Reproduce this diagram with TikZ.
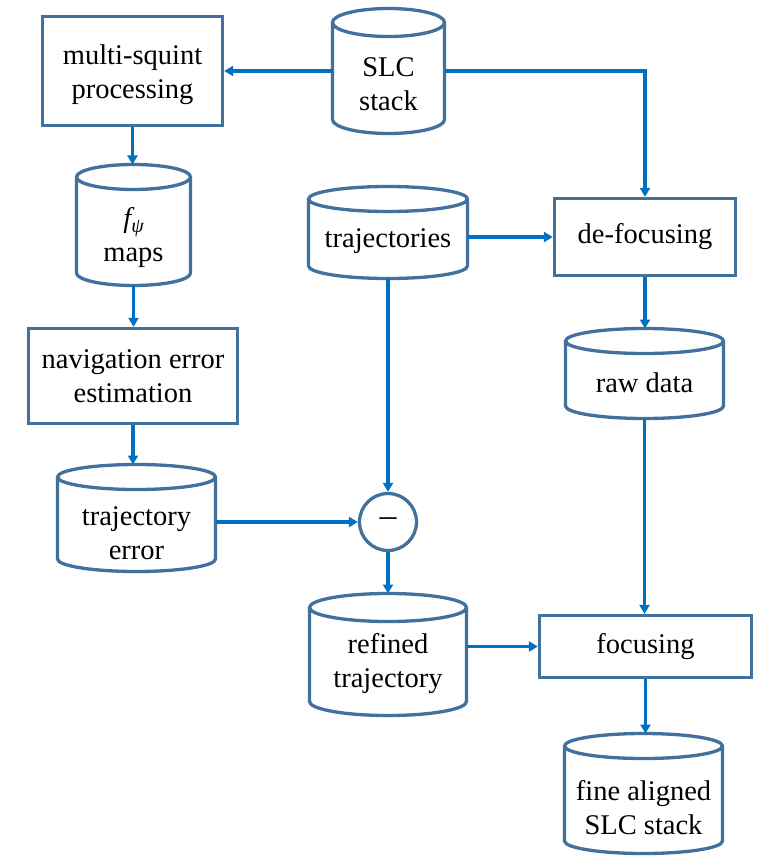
\documentclass[tikz,border=0pt]{standalone}
\usepackage{fontspec}
\setmainfont{Liberation Serif}
\usetikzlibrary{arrows.meta,calc}
\definecolor{bordc}{HTML}{41719C}
\definecolor{arrc}{HTML}{0070C0}
\tikzset{
  boxnode/.style={draw=bordc, line width=3.3pt, fill=white, inner sep=0pt, align=center,
    font=\fontsize{28.5}{34}\selectfont},
  cylshape/.style={draw=none, inner sep=0pt, outer sep=0pt},
  cylline/.style={draw=bordc, line width=3.3pt},
  txt/.style={inner sep=0pt, align=center, font=\fontsize{28.5}{34}\selectfont},
  conn/.style={draw=arrc, line width=3.3pt, -{Triangle[length=9pt,width=10pt]}},
}
\newcommand\cyl[8]{%
  \node[cylshape, minimum width=#4pt, minimum height=#5pt] (#1) at (#2,#3) {};
  \draw[cylline, fill=white] ([yshift=-#6pt]#1.north west) -- ([yshift=#6pt]#1.south west)
    arc[start angle=180, end angle=360, x radius=#4pt/2, y radius=#6pt]
    -- ([yshift=-#6pt]#1.north east)
    arc[start angle=0, end angle=360, x radius=#4pt/2, y radius=#6pt];
  \node[txt] (#1t) at ([yshift=-#7pt]#1.center) {#8};
}
\begin{document}
\begin{tikzpicture}[x=1pt,y=-1pt]
\useasboundingbox (0,0) rectangle (757,858);
% boxes
\node[boxnode, minimum width=180pt, minimum height=109pt] (ms) at (132.5,71) {};
\node[txt] (mst) at ([yshift=-4pt]ms.center) {multi-squint\\processing};
\node[boxnode, minimum width=209pt, minimum height=95pt] (nav) at (133,376) {navigation error\\estimation};
\node[boxnode, minimum width=181pt, minimum height=77pt] (defoc) at (645,237) {de-focusing};
\node[boxnode, minimum width=212pt, minimum height=62pt] (focus) at (645.5,646.5) {focusing};
% cylinders
\cyl{slc}{388.5}{71}{112}{125}{14}{13}{SLC\\stack}
\cyl{fpsi}{133.5}{225}{114}{121}{12.5}{13}{{\itshape f}\raisebox{-0.35ex}{\fontsize{20}{20}\selectfont\itshape ψ}\\maps}
\cyl{traj}{388}{232.5}{159}{92}{12.5}{8.5}{trajectories}
\cyl{raw}{644.5}{373.5}{158}{90}{12.5}{9.5}{raw data}
\cyl{terr}{136.5}{518}{158}{107}{12.5}{15}{trajectory\\error}
\cyl{ref}{388}{654.5}{157}{122}{14}{9}{refined\\trajectory}
\cyl{fine}{643.5}{793.5}{158}{120}{12.5}{14.5}{fine aligned\\SLC stack}
% minus circle
\node[draw=bordc, line width=3.3pt, fill=white, circle, minimum size=57pt, inner sep=0pt,
  font=\fontsize{34}{34}\selectfont] (circ) at (388,522) {\raisebox{-2pt}{–}};
% connectors
\draw[conn] (slc.west) -- (ms.east);
\draw[conn] (slc.east) -| (defoc.north);
\draw[conn] (ms.south) -- (ms.south |- fpsi.north);
\draw[conn] (fpsi.south) -- (fpsi.south |- nav.north);
\draw[conn] (nav.south) -- (nav.south |- terr.north);
\draw[conn] (traj.south) -- (circ.north);
\draw[conn] (terr.east |- circ.west) -- (circ.west);
\draw[conn] (circ.south) -- (ref.north);
\draw[conn] (traj.east |- defoc.west) -- (defoc.west);
\draw[conn] (defoc.south) -- (defoc.south |- raw.north);
\draw[conn] (raw.south) -- (raw.south |- focus.north);
\draw[conn] (ref.east |- focus.west) -- (focus.west);
\draw[conn] (focus.south) -- (focus.south |- fine.north);
\end{tikzpicture}
\end{document}
